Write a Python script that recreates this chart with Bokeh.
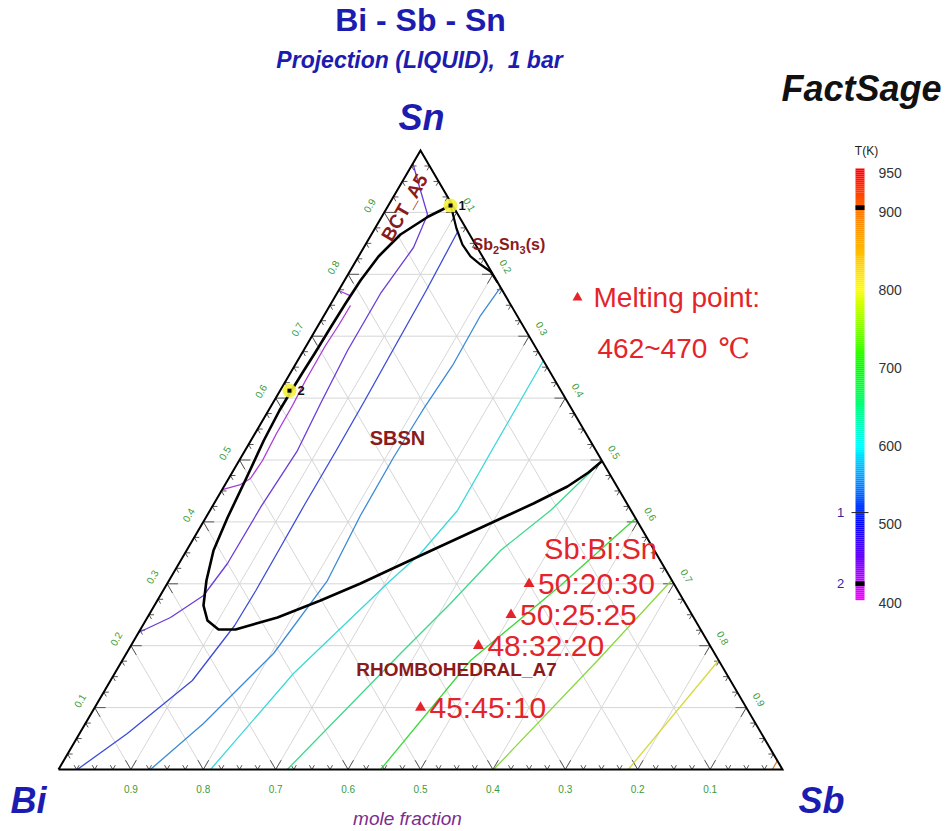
import colorsys
import numpy as np
from bokeh.plotting import figure
from bokeh.models import Range1d
from bokeh.core.properties import value
from bokeh.embed import file_html
from bokeh.resources import INLINE

# ---------------- data: mole fractions (x_Sb, x_Sn); x_Bi = 1 - x_Sb - x_Sn ----------------
# liquidus field boundaries
bound_main_sb = [0.0858, 0.0643, 0.0402, 0.0276, 0.0221, 0.0200, 0.0187, 0.0178, 0.0165, 0.0157,
                 0.0152, 0.0178, 0.0240, 0.0300, 0.0372, 0.0517, 0.0678, 0.0854, 0.1079, 0.1314,
                 0.1797, 0.2254, 0.2668, 0.2970, 0.3403, 0.3907, 0.4412, 0.4744, 0.4921, 0.5012]
bound_main_sn = [0.9111, 0.8934, 0.8643, 0.8288, 0.7900, 0.7528, 0.7141, 0.6737, 0.6414, 0.6123,
                 0.5800, 0.5315, 0.4717, 0.4071, 0.3538, 0.3053, 0.2649, 0.2407, 0.2262, 0.2262,
                 0.2456, 0.2730, 0.3005, 0.3231, 0.3554, 0.3926, 0.4297, 0.4572, 0.4798, 0.4976]
bound_sb2sn3_sb = [0.0858, 0.0943, 0.1127, 0.1339, 0.1547, 0.1750, 0.1944, 0.2130]
bound_sb2sn3_sn = [0.9111, 0.8998, 0.8740, 0.8481, 0.8288, 0.8158, 0.8045, 0.7868]

# isotherms (temperature in K, then compositions)
iso_T = [430, 430, 470, 510, 550, 600, 650, 700, 750, 800, 900]
iso_sb = [
    [0.0285, 0.0281, 0.0263, 0.0270, 0.0292, 0.0297, 0.0322, 0.0301, 0.0212, 0.0],
    [0.0, 0.021],
    [0.0, 0.0323, 0.0614, 0.0687, 0.0603, 0.0608, 0.0663, 0.0724, 0.0674, 0.0670, 0.0598, 0.0319, 0.0],
    [0.117, 0.121, 0.123, 0.125, 0.126, 0.126, 0.127, 0.128, 0.127, 0.113, 0.066, 0.026],
    [0.2212, 0.2162, 0.2179, 0.2128, 0.2107, 0.2119, 0.2188, 0.2033, 0.1631, 0.127],
    [0.3395, 0.3406, 0.3419, 0.3255, 0.3059, 0.2470, 0.210],
    [0.501, 0.4704, 0.4336, 0.4073, 0.3787, 0.316],
    [0.5942, 0.5448, 0.4811, 0.445],
    [0.6940, 0.6565, 0.601],
    [0.8236, 0.787],
    [0.9858, 0.986],
]
iso_sn = [
    [0.7496, 0.7173, 0.6850, 0.6284, 0.5880, 0.5428, 0.4992, 0.4701, 0.4604, 0.4523],
    [0.7738, 0.765],
    [0.9790, 0.9354, 0.8966, 0.8433, 0.7690, 0.6769, 0.5913, 0.5153, 0.4233, 0.3328, 0.2811, 0.2456, 0.2213],
    [0.8675, 0.7738, 0.6817, 0.5961, 0.5153, 0.4265, 0.3619, 0.2892, 0.2326, 0.1438, 0.0582, 0.0],
    [0.7787, 0.7334, 0.6527, 0.5800, 0.5040, 0.4103, 0.3053, 0.1874, 0.0743, 0.0],
    [0.6607, 0.5315, 0.4184, 0.3489, 0.3053, 0.1551, 0.0],
    [0.498, 0.4184, 0.3538, 0.2682, 0.1874, 0.0],
    [0.4055, 0.2973, 0.1761, 0.0],
    [0.3053, 0.1761, 0.0],
    [0.1761, 0.0],
    [0.0145, 0.0],
]

# invariant points
inv_label = ["1", "2"]
inv_sb = [0.086, 0.013]
inv_sn = [0.911, 0.612]
inv_T = [515, 424]
extra_mark_T = [905]

# alloys (Sb:Bi:Sn)
alloy_sb = [0.50, 0.50, 0.48, 0.45]
alloy_bi = [0.20, 0.25, 0.32, 0.45]
alloy_sn = [0.30, 0.25, 0.20, 0.10]
alloy_label = ["50:20:30", "50:25:25", "48:32:20", "45:45:10"]

grid_fracs = [0.1, 0.2, 0.3, 0.4, 0.5, 0.6, 0.7, 0.8, 0.9]
tick_labels = ["0.1", "0.2", "0.3", "0.4", "0.5", "0.6", "0.7", "0.8", "0.9"]
cb_ticks = [400, 500, 600, 700, 800, 900, 950]

# ---------------- geometry ----------------
X0, SX = 58.0, 724.0     # page px of Bi corner, px per unit
Y0, SY = 769.0, 619.0
W, H = 947, 831
K = 430.0 / 550.0        # colour bar px per K


def tx(sb, sn):
    return np.asarray(sb, float) + 0.5 * np.asarray(sn, float)


def ty(sb, sn):
    return np.asarray(sn, float)


def px(v):
    return (v - X0) / SX


def py(v):
    return (Y0 - v) / SY


def cmap(T, s=1.0, v=1.0):
    h = float(np.interp(T, [400, 500, 600, 700, 800, 900, 950], [300, 240, 180, 120, 60, 28, 0])) / 360.0
    r, g, b = colorsys.hsv_to_rgb(h, s, v)
    return "#%02x%02x%02x" % (int(r * 255), int(g * 255), int(b * 255))


p = figure(width=W, height=H, output_backend="svg", toolbar_location=None,
           x_range=Range1d(px(0), px(W)), y_range=Range1d(py(H), py(0)),
           min_border=0, outline_line_color=None)
p.axis.visible = False
p.grid.visible = False
p.background_fill_color = "white"
p.border_fill_color = "white"
p.extra_y_ranges = {"T": Range1d(950 - (H - 172) / K, 950 + 172 / K)}

# ---------------- grid ----------------
gx, gy = [], []
for t in grid_fracs:
    for sb_pair, sn_pair in (([0, 1 - t], [t, t]), ([t, t], [0, 1 - t]), ([1 - t, 0], [0, 1 - t])):
        gx.append(list(tx(sb_pair, sn_pair)))
        gy.append(list(ty(sb_pair, sn_pair)))
p.multi_line(gx, gy, line_color="#d6d6d6", line_width=1)

# ---------------- ticks ----------------
kx, ky = [], []
for k in range(1, 40):
    s = k * 0.025
    d = 0.015 if k % 4 == 0 else 0.007
    segs = [
        ([s, s], [0, d]), ([s, s - d], [0, d]),                       # bottom edge
        ([0, d], [s, s]), ([0, d], [s, s - d]),                       # left edge
        ([1 - s, 1 - s - d], [s, s]), ([1 - s, 1 - s], [s, s - d]),   # right edge
    ]
    for a, b in segs:
        kx.append(list(tx(a, b)))
        ky.append(list(ty(a, b)))
p.multi_line(kx, ky, line_color="#555555", line_width=1)

# ---------------- isotherms ----------------
for T, sbs, sns in zip(iso_T, iso_sb, iso_sn):
    p.line(tx(sbs, sns), ty(sbs, sns), line_color=cmap(T, 0.72, 0.85), line_width=1.3)

# ---------------- boundaries ----------------
p.line(tx(bound_main_sb, bound_main_sn), ty(bound_main_sb, bound_main_sn),
       line_color="black", line_width=2.6, line_join="round")
p.line(tx(bound_sb2sn3_sb, bound_sb2sn3_sn), ty(bound_sb2sn3_sb, bound_sb2sn3_sn),
       line_color="black", line_width=2.2, line_join="round")

# triangle frame
p.line(tx([0, 1, 0, 0], [0, 0, 1, 0]), ty([0, 1, 0, 0], [0, 0, 1, 0]),
       line_color="black", line_width=2, line_join="miter")

# ---------------- invariant points ----------------
ix, iy = tx(inv_sb, inv_sn), ty(inv_sb, inv_sn)
p.scatter(ix, iy, marker="circle", size=14, fill_color="#f4ef3a", line_color=None, fill_alpha=0.9)
p.scatter(ix, iy, marker="square", size=4, fill_color="black", line_color=None)
p.text(ix + 8 / SX, iy, text=inv_label, text_font=value("Liberation Sans"),
       text_font_size="13px", text_font_style="bold", text_color="#111111",
       text_align="left", text_baseline="middle")

# ---------------- alloy points ----------------
ax_, ay_ = tx(alloy_sb, alloy_sn), ty(alloy_sb, alloy_sn)
p.scatter(ax_, ay_, marker="triangle", size=11, fill_color="#e3242b", line_color=None)
p.text(ax_ + 9 / SX, ay_, text=alloy_label, text_font=value("Liberation Sans"),
       text_font_size="30px", text_color="#e3242b", text_align="left", text_baseline="middle")

# ---------------- tick labels ----------------
green = "#3b9b3b"
bot_x = [px(X0 + (1 - float(l)) * SX) for l in tick_labels]
p.text(bot_x, [py(788)] * 9, text=tick_labels, text_font=value("Liberation Sans"),
       text_font_size="10px", text_color=green, text_align="center", text_baseline="middle")
lt = np.array(grid_fracs)
p.text(tx(0 * lt, lt) - 15 / SX, ty(0 * lt, lt) + 7 / SY, text=tick_labels,
       text_font=value("Liberation Sans"), text_font_size="10px", text_color=green,
       text_align="center", text_baseline="middle", angle=np.pi / 3)
p.text(tx(lt, 1 - lt) + 13 / SX, ty(lt, 1 - lt) + 8 / SY, text=tick_labels,
       text_font=value("Liberation Sans"), text_font_size="10px", text_color=green,
       text_align="center", text_baseline="middle", angle=-np.pi / 3)

# ---------------- colour bar ----------------
edges = np.linspace(403, 955, 221)
p.quad(left=px(855), right=px(864), bottom=edges[:-1], top=edges[1:],
       fill_color=[cmap(0.5 * (a + b)) for a, b in zip(edges[:-1], edges[1:])],
       line_color=None, y_range_name="T")
p.quad(left=px(855), right=px(864), bottom=[t - 3 for t in extra_mark_T + [inv_T[1]]],
       top=[t + 3 for t in extra_mark_T + [inv_T[1]]], fill_color="black", line_color=None,
       y_range_name="T")
p.segment(x0=[px(851)], x1=[px(868)], y0=[inv_T[0]], y1=[inv_T[0]], line_color="#222222",
          line_width=1, y_range_name="T")
p.text([px(878)] * len(cb_ticks), cb_ticks, text=[str(t) for t in cb_ticks],
       text_font=value("Liberation Sans"), text_font_size="14px", text_color="#333333",
       text_align="left", text_baseline="middle", y_range_name="T")
p.text([px(840)] * 2, inv_T, text=inv_label, text_font=value("Liberation Sans"),
       text_font_size="13px", text_color="#2a2a9a", text_align="center", text_baseline="middle",
       y_range_name="T")


# ---------------- titles and labels ----------------
def label(x, y, s, size, color, style="normal", align="center", angle=0.0, font="Liberation Sans"):
    p.text([px(x)], [py(y)], text=[s], text_font=value(font), text_font_size=size,
           text_font_style=style, text_color=color, text_align=align, text_baseline="middle",
           angle=angle)


blue = "#1c1cb0"
dred = "#8b1a1a"
red = "#e3242b"
label(420, 19, "Bi - Sb - Sn", "32px", blue, "bold")
label(419, 59, "Projection (LIQUID),\u00a0 1 bar", "23px", blue, "bold italic")
label(421, 117, "Sn", "36px", blue, "bold italic")
label(28, 800, "Bi", "36px", blue, "bold italic")
label(821, 800, "Sb", "36px", blue, "bold italic")
label(861, 88, "FactSage", "36px", "#111111", "bold italic")
label(407, 818, "mole fraction", "19px", "#7b2d8e", "italic")
label(866, 150, "T(K)", "12px", "#222222")
label(404, 207, "BCT_A5", "19px", dred, "bold", angle=np.pi / 3)
# Sb2Sn3(s) with subscripts
label(472, 244, "Sb", "16px", dred, "bold", align="left")
label(492.5, 249, "2", "11px", dred, "bold", align="left")
label(498.6, 244, "Sn", "16px", dred, "bold", align="left")
label(519.1, 249, "3", "11px", dred, "bold", align="left")
label(525.2, 244, "(s)", "16px", dred, "bold", align="left")
label(397, 437, "SBSN", "20px", dred, "bold")
label(456, 669, "RHOMBOHEDRAL_A7", "19px", dred, "bold")
label(600, 548, "Sb:Bi:Sn", "29px", red)
label(593, 297, "Melting point:", "28px", red, align="left")
label(597, 348, "462~470", "28px", red, align="left")
label(718, 348, "℃", "28px", red, align="left", font="DejaVu Serif")
p.scatter([px(577)], [py(297)], marker="triangle", size=10, fill_color=red, line_color=None)

with open("out.html", "w") as f:
    f.write(file_html(p, INLINE))
